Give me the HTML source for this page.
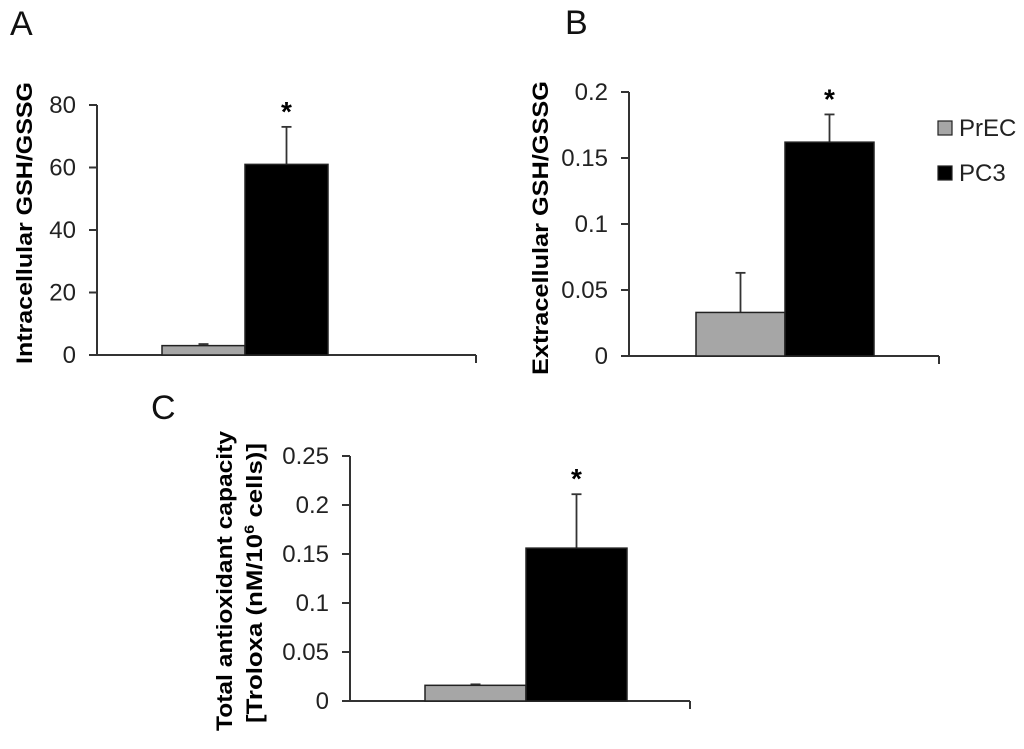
<!DOCTYPE html>
<html><head><meta charset="utf-8"><style>
body{margin:0;background:#fff;}
svg text{font-family:"Liberation Sans",Arial,sans-serif;}
</style></head><body>
<svg id="fig" width="1024" height="744" viewBox="0 0 1024 744"></svg>
<script>
const groups = ["PrEC","PC3"];
const valuesA = [3, 61];
const errA = [0.5, 12];
const ticksA = [0,20,40,60,80];
const valuesB = [0.033, 0.162];
const errB = [0.03, 0.021];
const ticksB = [0,0.05,0.1,0.15,0.2];
const tickLabelsB = ["0","0.05","0.1","0.15","0.2"];
const valuesC = [0.016, 0.156];
const errC = [0.001, 0.055];
const ticksC = [0,0.05,0.1,0.15,0.2,0.25];
const tickLabelsC = ["0","0.05","0.1","0.15","0.2","0.25"];
const colors = ["#a6a6a6","#000"];
const NS="http://www.w3.org/2000/svg";
const svg=document.getElementById('fig');
function mk(tag,attrs,parent){const e=document.createElementNS(NS,tag);for(const k in attrs)e.setAttribute(k,attrs[k]);(parent||svg).appendChild(e);return e;}
function panel(cfg){
  const g=mk('g',{});
  
  
  const max=cfg.ticks[cfg.ticks.length-1];
  const y=v=>cfg.y0-(v/max)*(cfg.y0-cfg.yTop);
  const ax=mk('line',{x1:cfg.ax,y1:cfg.yTop,x2:cfg.ax,y2:cfg.y0,stroke:'#333','stroke-width':2},g);
  
  
  const xa=mk('line',{x1:cfg.ax-8,y1:cfg.y0,x2:cfg.xEnd,y2:cfg.y0,stroke:'#333','stroke-width':2},g);
  
  
  mk('line',{x1:cfg.xEnd,y1:cfg.y0,x2:cfg.xEnd,y2:cfg.y0+8,stroke:'#333','stroke-width':2},g);
  cfg.ticks.forEach((t,i)=>{
    mk('line',{x1:cfg.ax-8,y1:y(t),x2:cfg.ax,y2:y(t),stroke:'#333','stroke-width':2},g);
    const tx=mk('text',{x:cfg.ax-21,y:y(t)+8,'text-anchor':'end','font-size':24,fill:'#222'},g);
    tx.textContent=cfg.labels?cfg.labels[i]:String(t);
    
    
  });
  cfg.values.forEach((v,i)=>{
    const x=cfg.bx+i*cfg.bw;
    mk('line',{x1:x+cfg.bw/2,y1:y(v),x2:x+cfg.bw/2,y2:y(v+cfg.err[i]),stroke:'#333','stroke-width':1.8},g);
    mk('line',{x1:x+cfg.bw/2-5,y1:y(v+cfg.err[i]),x2:x+cfg.bw/2+5,y2:y(v+cfg.err[i]),stroke:'#333','stroke-width':1.8},g);
    const r=mk('rect',{x:x,y:y(v),width:cfg.bw,height:cfg.y0-y(v),fill:colors[i],stroke:'#222','stroke-width':1.5},g);
    
    
    if(i===1){
      const s=mk('text',{x:x+cfg.bw/2,y:y(v+cfg.err[i])-6,'text-anchor':'middle','font-size':28,'font-weight':'bold'},g);
      s.textContent='*';
      
      
    }
  });
  const l=mk('text',{x:cfg.lx,y:cfg.ly,'font-size':34,fill:'#111'},g);
  l.textContent=cfg.letter;
  
  
  return g;
}
panel({name:'panel-a',letter:'A',lx:10,ly:35,ax:97,yTop:105,y0:355,xEnd:476,bx:162,bw:83,values:valuesA,err:errA,ticks:ticksA});
panel({name:'panel-b',letter:'B',lx:565,ly:34,ax:629,yTop:92,y0:356,xEnd:939,bx:696,bw:89,values:valuesB,err:errB,ticks:ticksB,labels:tickLabelsB});
panel({name:'panel-c',letter:'C',lx:151,ly:419,ax:350,yTop:456,y0:701,xEnd:690,bx:425,bw:101,values:valuesC,err:errC,ticks:ticksC,labels:tickLabelsC});
function ytitle(x,y,len,txt,name){const t=mk('text',{x:x,y:y,'text-anchor':'middle','font-size':22,'font-weight':'bold',textLength:len,lengthAdjust:'spacingAndGlyphs',transform:`rotate(-90 ${x} ${y})`});t.innerHTML=txt;}
ytitle(32,223,282,'Intracellular GSH/GSSG','y-axis-title-a');
ytitle(548,228,294,'Extracellular GSH/GSSG','y-axis-title-b');
ytitle(232,581,300,'Total antioxidant capacity','y-axis-title-c');
ytitle(262,583,280,'[Troloxa (nM/10<tspan font-size="14" dy="-8">6</tspan><tspan dy="8"> cells)]</tspan>','y-axis-title-c2');
groups.forEach((gname,i)=>{
  const yy=128+i*45;
  const r=mk('rect',{x:938,y:yy-7,width:14,height:14,fill:colors[i],stroke:'#222','stroke-width':1.2});
  
  
  const t=mk('text',{x:959,y:yy+8,'font-size':24,fill:'#222'});
  t.textContent=gname;
  
  
});
</script>
</body></html>
